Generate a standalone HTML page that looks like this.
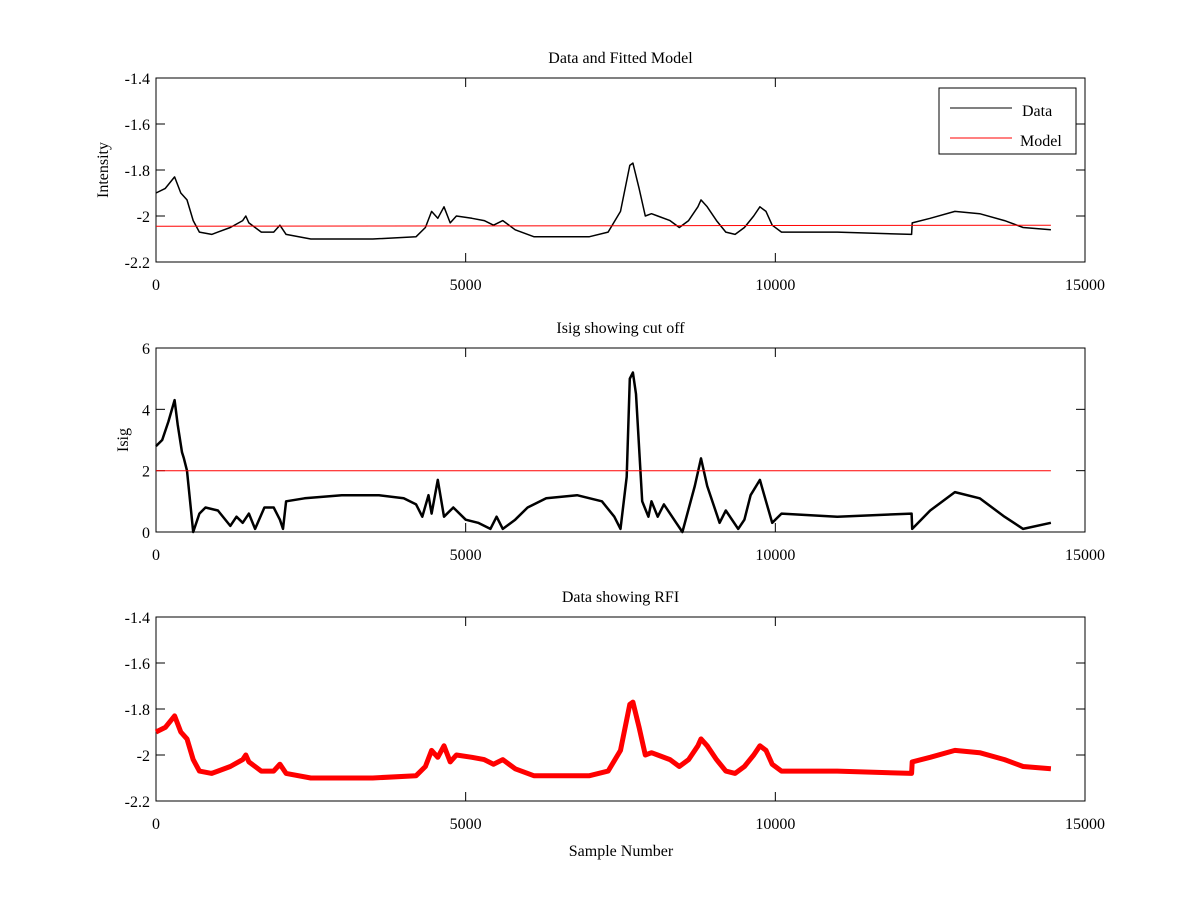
<!DOCTYPE html>
<html><head><meta charset="utf-8"><style>
body{margin:0;background:#fff;}
svg{display:block;font-family:"Liberation Serif",serif;}
</style></head><body>
<svg id="fig" width="1200" height="900" xmlns="http://www.w3.org/2000/svg"></svg>
<script>
const dataX=[0,150,300,400,500,600,700,900,1000,1200,1400,1450,1500,1700,1900,2000,2100,2500,3500,4200,4350,4450,4550,4650,4750,4850,5100,5300,5450,5600,5800,6100,7000,7300,7500,7650,7700,7800,7900,8000,8100,8300,8450,8600,8750,8800,8900,9050,9200,9350,9500,9650,9750,9850,9950,10100,11000,12200,12210,12500,12900,13300,13700,14000,14450];
const dataY=[-1.90,-1.88,-1.83,-1.90,-1.93,-2.02,-2.07,-2.08,-2.07,-2.05,-2.02,-2.00,-2.03,-2.07,-2.07,-2.04,-2.08,-2.10,-2.10,-2.09,-2.05,-1.98,-2.01,-1.96,-2.03,-2.00,-2.01,-2.02,-2.04,-2.02,-2.06,-2.09,-2.09,-2.07,-1.98,-1.78,-1.77,-1.88,-2.00,-1.99,-2.00,-2.02,-2.05,-2.02,-1.96,-1.93,-1.96,-2.02,-2.07,-2.08,-2.05,-2.00,-1.96,-1.98,-2.04,-2.07,-2.07,-2.08,-2.03,-2.01,-1.98,-1.99,-2.02,-2.05,-2.06];
const modelX=[0,14450];
const modelY=[-2.045,-2.04];
const isigX=[0,100,200,300,350,420,450,500,600,700,800,1000,1200,1300,1400,1500,1600,1750,1900,2000,2050,2100,2400,3000,3600,4000,4200,4300,4400,4450,4550,4650,4800,5000,5200,5400,5500,5600,5800,6000,6300,6800,7200,7400,7500,7600,7650,7700,7750,7850,7950,8000,8100,8200,8400,8500,8700,8800,8900,9100,9200,9400,9500,9600,9750,9850,9950,10100,11000,12200,12210,12500,12900,13300,13700,14000,14450];
const isigY=[2.8,3.0,3.6,4.3,3.5,2.6,2.4,2.0,0,0.6,0.8,0.7,0.2,0.5,0.3,0.6,0.1,0.8,0.8,0.4,0.1,1.0,1.1,1.2,1.2,1.1,0.9,0.5,1.2,0.6,1.7,0.5,0.8,0.4,0.3,0.1,0.5,0.1,0.4,0.8,1.1,1.2,1.0,0.5,0.1,1.8,5.0,5.2,4.5,1.0,0.5,1.0,0.5,0.9,0.3,0.0,1.5,2.4,1.5,0.3,0.7,0.1,0.4,1.2,1.7,1.0,0.3,0.6,0.5,0.6,0.1,0.7,1.3,1.1,0.5,0.1,0.3];
const cutX=[0,14450];
const cutY=[2,2];
const xTicks=[0,5000,10000,15000];
const yTicksA=[-2.2,-2,-1.8,-1.6,-1.4];
const yTicksB=[0,2,4,6];

const NS="http://www.w3.org/2000/svg";
const svg=document.getElementById('fig');
function mk(tag,attrs,parent){const e=document.createElementNS(NS,tag);for(const k in attrs)e.setAttribute(k,attrs[k]);(parent||svg).appendChild(e);return e;}
const L=156,R=1085;
function axes(top,bot,ymin,ymax,yticks,title,ylabel,name){
  const g=mk('g',{});
  
  
  const sx=v=>L+(v-0)/15000*(R-L);
  const sy=v=>bot-(v-ymin)/(ymax-ymin)*(bot-top);
  const f=mk('rect',{x:L,y:top,width:R-L,height:bot-top,fill:'#fff',stroke:'#000','stroke-width':1},g);
  
  
  xTicks.forEach(t=>{const x=sx(t);
    mk('line',{x1:x,y1:bot,x2:x,y2:bot-9,stroke:'#000'},g);
    mk('line',{x1:x,y1:top,x2:x,y2:top+9,stroke:'#000'},g);
    const tx=mk('text',{x:x,y:bot+28,'font-size':16,'text-anchor':'middle'},g);tx.textContent=t;
    
    
  });
  yticks.forEach(t=>{const y=sy(t);
    mk('line',{x1:L,y1:y,x2:L+9,y2:y,stroke:'#000'},g);
    mk('line',{x1:R,y1:y,x2:R-9,y2:y,stroke:'#000'},g);
    const tx=mk('text',{x:L-6,y:y+6,'font-size':16,'text-anchor':'end'},g);tx.textContent=String(t).replace('-','-');
    
    
  });
  const tt=mk('text',{x:(L+R)/2,y:top-15,'font-size':16,'text-anchor':'middle'},g);tt.textContent=title;
  
  
  if(ylabel){const yl=mk('text',{x:0,y:0,'font-size':16,'text-anchor':'middle',transform:`translate(${yl_x(ylabel)},${(top+bot)/2}) rotate(-90)`},g);yl.textContent=ylabel;
    
    }
  return {g,sx,sy};
}
function yl_x(l){return l==='Isig'?128:108;}
function line(ax,xs,ys,color,w,name){
  const d=xs.map((x,i)=>(i?'L':'M')+ax.sx(x).toFixed(1)+','+ax.sy(ys[i]).toFixed(1)).join('');
  const p=mk('path',{d:d,fill:'none',stroke:color,'stroke-width':w,'stroke-linejoin':'round'},ax.g);
  
  
}
const a1=axes(78,262,-2.2,-1.4,yTicksA,'Data and Fitted Model','Intensity','top-plot');
line(a1,dataX,dataY,'#000',1.5,'data-line');
line(a1,modelX,modelY,'#f00',1,'model-line');
// legend
const lg=mk('g',{},a1.g);


mk('rect',{x:939,y:88,width:137,height:66,fill:'#fff',stroke:'#000'},lg);
mk('line',{x1:950,y1:108,x2:1012,y2:108,stroke:'#000'},lg);
mk('line',{x1:950,y1:138,x2:1012,y2:138,stroke:'#f00'},lg);
const t1=mk('text',{x:1022,y:116,'font-size':16},lg);t1.textContent='Data';


const t2=mk('text',{x:1020,y:146,'font-size':16},lg);t2.textContent='Model';



const a2=axes(348,532,0,6,yTicksB,'Isig showing cut off','Isig','middle-plot');
line(a2,isigX,isigY,'#000',2.5,'isig-line');
line(a2,cutX,cutY,'#f00',1,'cutoff-line');

const a3=axes(617,801,-2.2,-1.4,yTicksA,'Data showing RFI','','bottom-plot');
line(a3,dataX,dataY,'#f00',5,'rfi-data-line');
const xl=mk('text',{x:621,y:856,'font-size':16,'text-anchor':'middle'},a3.g);xl.textContent='Sample Number';


</script>
</body></html>
